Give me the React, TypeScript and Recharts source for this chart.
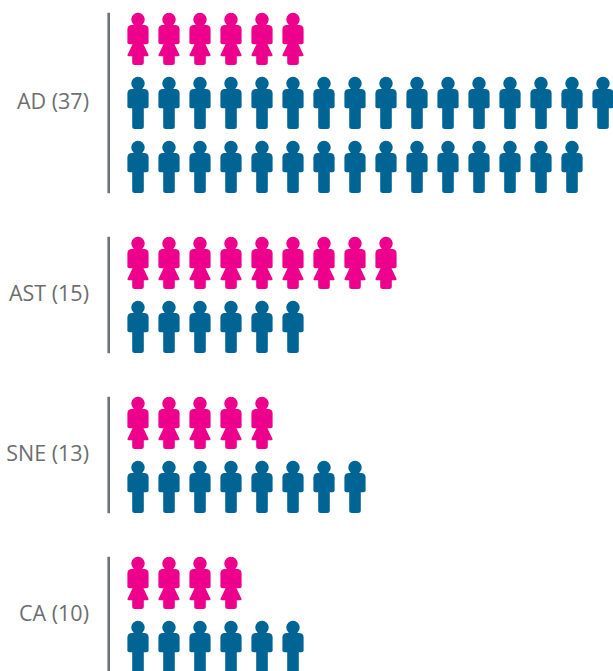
import React from "react";
import { ScatterChart, Scatter, XAxis, YAxis, ReferenceLine } from "recharts";

const groupNames = ["AD", "AST", "SNE", "CA"];
const groupTotals = [37, 15, 13, 10];
// row positions are in "row height" units, top to bottom
const womenRows = [0, 3.5, 6, 8.5];
const womenCounts = [6, 9, 5, 4];
const menRows = [1, 2, 4.5, 7, 9.5];
const menCounts = [16, 15, 6, 8, 6];
const groupSpans: [number, number][] = [
  [0, 2],
  [3.5, 4.5],
  [6, 7],
  [8.5, 9.5],
];

const PINK = "#ec008c";
const BLUE = "#006595";
const GREY = "#6d6e71";

function expand(rows: number[], counts: number[]) {
  const out: { col: number; row: number }[] = [];
  rows.forEach((row, r) => {
    for (let col = 0; col < counts[r]; col++) out.push({ col, row });
  });
  return out;
}
const women = expand(womenRows, womenCounts);
const men = expand(menRows, menCounts);

const torso = (cx: number, cy: number) => {
  const t = cy - 14;
  const b = cy + 5.2;
  const w = 10.6;
  const r = 4.5;
  const s = 2;
  return `M${cx - w + r},${t} H${cx + w - r} Q${cx + w},${t} ${cx + w},${t + r} V${b - s} Q${cx + w},${b} ${cx + w - s},${b} H${cx - w + s} Q${cx - w},${b} ${cx - w},${b - s} V${t + r} Q${cx - w},${t} ${cx - w + r},${t} Z`;
};

const Man = (p: any) => {
  const { cx, cy } = p;
  return (
    <g fill={BLUE}>
      <circle cx={cx} cy={cy - 19.5} r={6.7} />
      <path d={torso(cx, cy)} />
      <path
        d={`M${cx - 5.8},${cy} H${cx + 5.8} V${cy + 23.5} Q${cx + 5.8},${cy + 26} ${cx + 3},${cy + 26} H${cx - 3} Q${cx - 5.8},${cy + 26} ${cx - 5.8},${cy + 23.5} Z`}
      />
    </g>
  );
};

const Woman = (p: any) => {
  const { cx, cy } = p;
  return (
    <g fill={PINK}>
      <circle cx={cx} cy={cy - 19.5} r={6.7} />
      <path d={torso(cx, cy)} />
      <path
        d={`M${cx - 5.6},${cy} H${cx + 5.6} V${cy + 5.5} L${cx + 10.6},${cy + 16} Q${cx + 10.8},${cy + 17} ${cx + 9.5},${cy + 17.2} H${cx + 5.8} V${cy + 23.5} Q${cx + 5.8},${cy + 26} ${cx + 3},${cy + 26} H${cx - 3} Q${cx - 5.8},${cy + 26} ${cx - 5.8},${cy + 23.5} V${cy + 17.2} H${cx - 9.5} Q${cx - 10.8},${cy + 17} ${cx - 10.6},${cy + 16} L${cx - 5.6},${cy + 5.5} Z`}
      />
    </g>
  );
};

const labelTicks = groupSpans.map(([a, b]) => (a + b) / 2);
const tickLabel = (v: number) => {
  const i = labelTicks.indexOf(v);
  return i < 0 ? "" : `${groupNames[i]} (${groupTotals[i]})`;
};

export default function App() {
  return (
    <div style={{ position: "absolute", left: 0, top: 0, width: 613, height: 671, overflow: "hidden" }}>
      <ScatterChart
        width={613}
        height={671}
        margin={{ top: 39, right: 10, bottom: 24, left: 0 }}
      >
        <XAxis type="number" dataKey="col" domain={[0, 15]} hide />
        <YAxis
          type="number"
          dataKey="row"
          domain={[0, 9.5]}
          reversed
          width={138}
          ticks={labelTicks}
          interval={0}
          tickFormatter={tickLabel}
          axisLine={false}
          tickLine={false}
          tickSize={0}
          tickMargin={49}
          tick={{ fill: GREY, fontSize: 21.5, fontFamily: "'Open Sans', sans-serif", dy: -2 }}
        />
        {groupSpans.map(([a, b], i) => (
          <ReferenceLine
            key={i}
            segment={[
              { x: -0.945, y: a - 0.41 },
              { x: -0.945, y: b + 0.41 },
            ]}
            stroke="#707173"
            strokeWidth={2.6}
            ifOverflow="visible"
          />
        ))}
        <Scatter data={women} fill={PINK} shape={Woman} isAnimationActive={false} />
        <Scatter data={men} fill={BLUE} shape={Man} isAnimationActive={false} />
      </ScatterChart>
    </div>
  );
}
